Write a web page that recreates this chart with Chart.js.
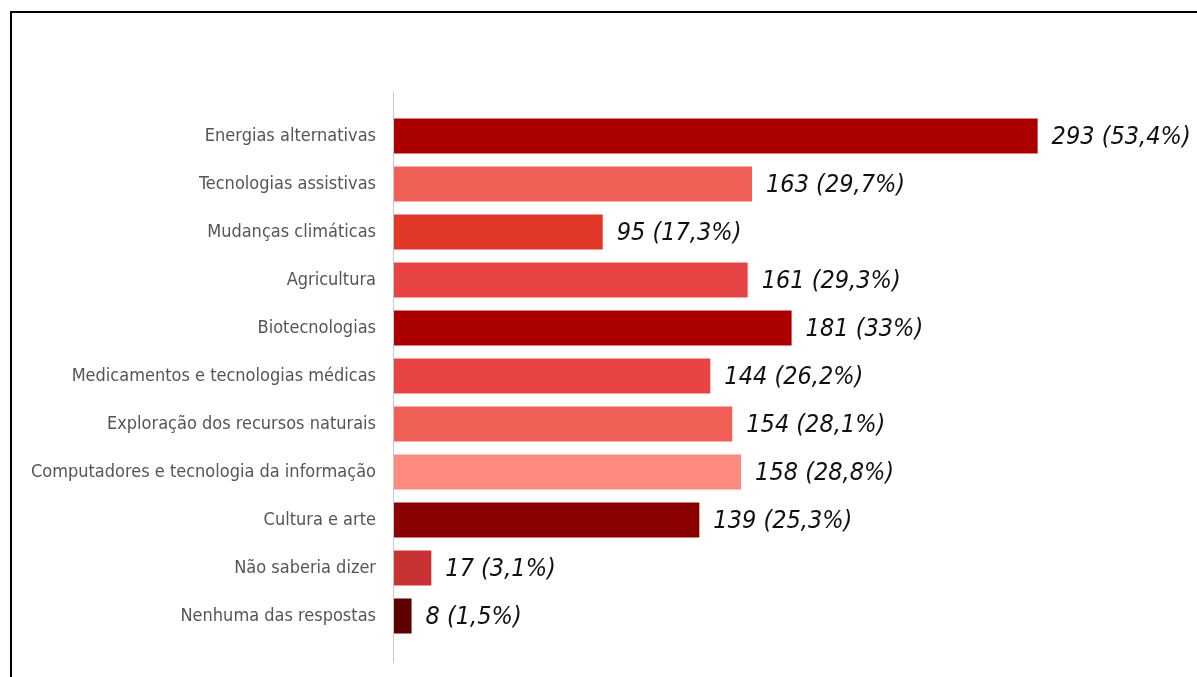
<!DOCTYPE html>
<html>
<head>
<meta charset="utf-8">
<script src="https://cdn.jsdelivr.net/npm/chart.js@4"></script>
<style>
  html, body { margin: 0; padding: 0; background: #fff; overflow: hidden; }
  #frame { position: absolute; left: 10px; top: 11px; width: 1200px; height: 700px; border: 2px solid #000; box-sizing: border-box; }
  #wrap { position: absolute; left: 0; top: 0; width: 1197px; height: 677px; }
</style>
</head>
<body>
<div id="frame"></div>
<div id="wrap"><canvas id="bar"></canvas></div>
<script>
"use strict";
var categories = ["Energias alternativas", "Tecnologias assistivas", "Mudanças climáticas", "Agricultura", "Biotecnologias",
    "Medicamentos e tecnologias médicas", "Exploração dos recursos naturais", "Computadores e tecnologia da informação",
    "Cultura e arte", "Não saberia dizer", "Nenhuma das respostas"];
var counts = [293, 163, 95, 161, 181, 144, 154, 158, 139, 17, 8];
var percents = ["53,4%", "29,7%", "17,3%", "29,3%", "33%", "26,2%", "28,1%", "28,8%", "25,3%", "3,1%", "1,5%"];
var barColors = ["#aa0000", "#ef5f55", "#e13726", "#e74446", "#aa0000", "#e74446", "#ef5f55", "#ff8a80", "#8b0000", "#c93232", "#5c0000"];

var fontFamily = "'Liberation Sans Narrow', 'DejaVu Sans Condensed', 'Roboto', sans-serif";

var valueLabels = {
    id: "valueLabels",
    afterDatasetsDraw: function (chart) {
        var ctx = chart.ctx;
        var meta = chart.getDatasetMeta(0);
        ctx.save();
        ctx.font = "italic 25px " + fontFamily;
        ctx.fillStyle = "#111";
        ctx.textAlign = "left";
        ctx.textBaseline = "middle";
        meta.data.forEach(function (bar, i) {
            ctx.fillText(counts[i] + " (" + percents[i] + ")", bar.x + 14, bar.y + 1);
        });
        ctx.restore();
    },
    afterDraw: function (chart) {
        var a = chart.chartArea, ctx = chart.ctx;
        ctx.save();
        ctx.strokeStyle = "#c8c8c8";
        ctx.lineWidth = 1;
        ctx.beginPath();
        ctx.moveTo(a.left - 0.5, a.top - 20);
        ctx.lineTo(a.left - 0.5, a.bottom + 23);
        ctx.stroke();
        ctx.restore();
    }
};

new Chart(document.getElementById("bar"), {
    type: "bar",
    data: {
        labels: categories,
        datasets: [{
            data: counts,
            backgroundColor: barColors,
            borderWidth: 0,
            categoryPercentage: 1,
            barPercentage: 0.73
        }]
    },
    options: {
        indexAxis: "y",
        responsive: true,
        maintainAspectRatio: false,
        animation: false,
        layout: { padding: { left: 0, right: 144, top: 112, bottom: 37 } },
        plugins: { legend: { display: false }, tooltip: { enabled: false } },
        scales: {
            x: { display: false, min: 0, max: 300 },
            y: {
                grid: { display: false, drawTicks: false },
                border: { display: false },
                afterFit: function (s) { s.width = 394; },
                ticks: {
                    padding: 18,
                    color: "#555",
                    font: { family: fontFamily, size: 18 }
                }
            }
        }
    },
    plugins: [valueLabels]
});
</script>
</body>
</html>
